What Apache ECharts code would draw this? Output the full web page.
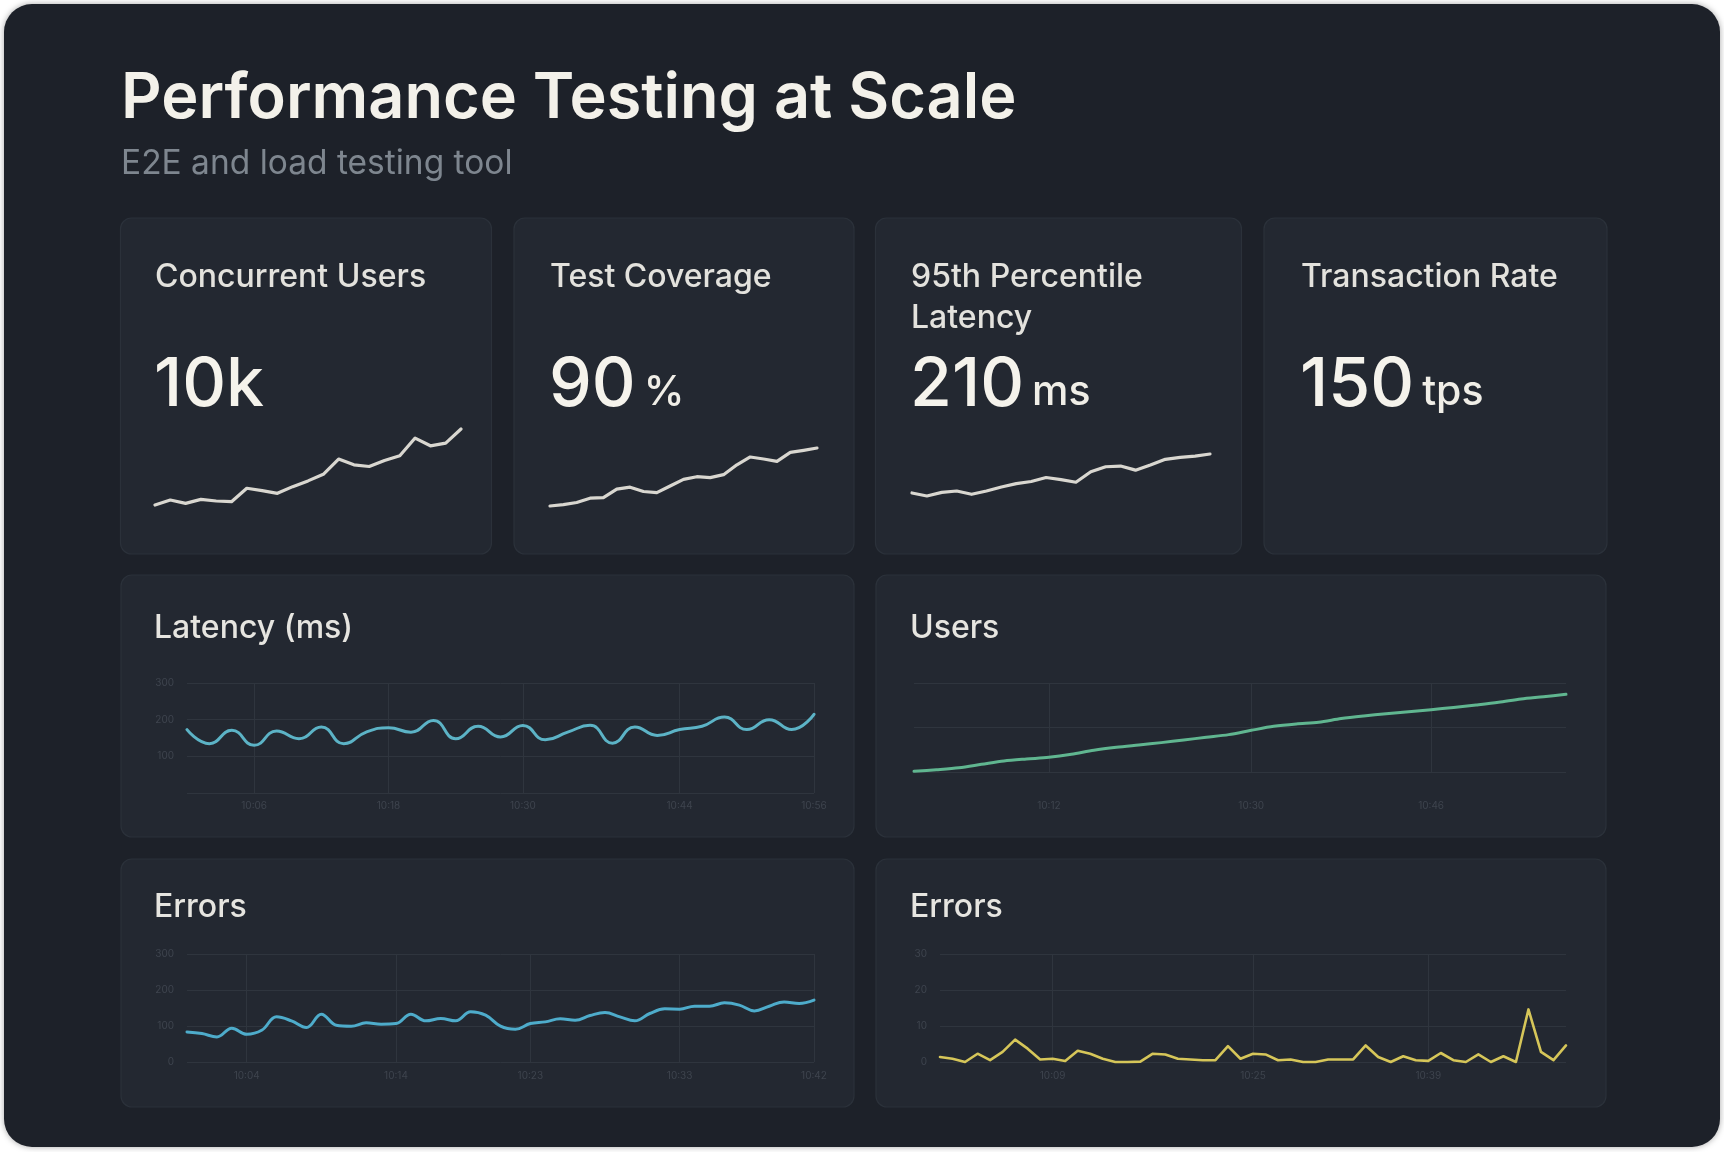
<!DOCTYPE html>
<html>
<head>
<meta charset="utf-8">
<script src="https://cdn.jsdelivr.net/npm/echarts@6/dist/echarts.min.js"></script>
<style>
html,body{margin:0;padding:0;background:#ffffff;}
#c{width:1724px;height:1152px;}
</style>
</head>
<body>
<div id="c"></div>
<script>
// ---------------- data ----------------
const pageTitle = 'Performance Testing at Scale';
const pageSubtitle = 'E2E and load testing tool';

const kpiLabels = ['Concurrent Users', 'Test Coverage', '95th Percentile Latency', 'Transaction Rate'];
const kpiValues = ['10k', '90', '210', '150'];
const kpiUnits  = ['', '%', 'ms', 'tps'];

// sparklines (Concurrent Users in k, Coverage in %, p95 latency in ms)
const sparkUsers    = [1.35, 1.92, 1.54, 2.0, 1.81, 1.73, 3.27, 3.0, 2.69, 3.46, 4.12, 4.88, 6.62, 5.96, 5.77, 6.46, 7.0, 9.04, 8.15, 8.46, 10.08];
const sparkCoverage = [70.0, 70.5, 71.2, 72.7, 72.9, 75.8, 76.5, 75.0, 74.6, 76.9, 79.2, 80.1, 79.8, 80.8, 84.2, 86.9, 86.2, 85.4, 88.5, 89.2, 90.0];
const sparkLatency  = [154.8, 150.5, 155.7, 157.6, 152.9, 157.6, 163.3, 168.1, 171.0, 176.7, 173.8, 170.0, 184.8, 191.9, 192.9, 187.1, 194.3, 202.4, 205.2, 207.1, 210.0];

const panelTitles = ['Latency (ms)', 'Users', 'Errors', 'Errors'];

const latencyMs = [172.7, 134.5, 170.9, 130, 169, 148, 180, 134.5, 166, 178, 166, 198, 148, 182, 153, 184, 145, 166, 184.5, 136, 180, 157, 173, 182, 207, 173, 200, 173, 214.5];
const usersCount = [1.5, 5.2, 9.7, 17.2, 24.7, 29.2, 33, 39.7, 48.7, 55.4, 60.7, 66, 72, 78, 84, 93.6, 102.6, 108, 111.6, 120, 126, 131, 135.6, 140, 145, 150.5, 156.5, 164, 169, 174.5];
const errorsA = [83.6, 79, 69.7, 93.8, 77, 88, 125.4, 114.3, 95.7, 132.8, 102, 99.4, 108.7, 105, 106.8, 132.8, 114.3, 120.8, 114.3, 139.4, 130, 99.4, 91, 106.8, 111.5, 119.8, 116, 129, 137.5, 125.4, 114.3, 134.7, 147.7, 146.8, 155, 155, 164.4, 158, 142, 155, 167, 162.6, 171.9];
const errorsB = [1.4, 0.9, 0, 2.3, 0.5, 2.8, 6.2, 3.7, 0.7, 0.9, 0.3, 3.1, 2.3, 0.9, 0, 0, 0.1, 2.3, 2.1, 0.9, 0.7, 0.5, 0.5, 4.4, 0.9, 2.3, 2.1, 0.5, 0.7, 0, 0, 0.7, 0.7, 0.7, 4.6, 1.4, 0, 1.6, 0.5, 0.3, 2.5, 0.5, 0, 2.1, 0, 1.6, 0, 14.6, 2.8, 0.5, 4.6];

// indices of the categories that carry a (faint) tick label + vertical grid line
const latencyTickIdx = [3, 9, 15, 22, 28];
const usersTickIdx   = [6, 15, 23];
const errorsATickIdx = [4, 14, 23, 33, 42];
const errorsBTickIdx = [9, 25, 39];

// ---------------- helpers ----------------
function timeLabels(n, startMin, stepMin) {
  const out = [];
  for (let i = 0; i < n; i++) {
    const m = startMin + i * stepMin;
    const hh = Math.floor(m / 60) % 24, mm = m % 60;
    out.push(String(hh).padStart(2, '0') + ':' + String(mm).padStart(2, '0'));
  }
  return out;
}
function idxCats(n) { return Array.from({length: n}, (_, i) => i); }

const FONT = 'Inter, "Noto Sans", Roboto, sans-serif';
const measureCtx = document.createElement('canvas').getContext('2d');
function textWidth(str, font) { measureCtx.font = font; return measureCtx.measureText(str).width; }

// text placed by its alphabetic baseline (zrender draws around the middle of the line)
function txt(x, baseline, text, size, weight, color, extra) {
  return Object.assign({
    type: 'text', x: x, y: baseline - 0.34 * size, silent: true, z: 10,
    style: { text: text, font: weight + ' ' + size + 'px ' + FONT, fill: color,
             align: 'left', verticalAlign: 'middle' }
  }, extra || {});
}
function card(x, y, w, h) {
  return { type: 'rect', shape: { x: x, y: y, width: w, height: h, r: 11 }, silent: true, z: -5,
           style: { fill: '#232831', stroke: '#2b313a', lineWidth: 1.2 } };
}

// ---------------- layout ----------------
const kpiCards = [
  [120.5, 218, 371, 336],
  [514, 218, 340, 336],
  [875.5, 218, 366, 336],
  [1264, 218, 343, 336]
];
const kpiTextX = [155, 550, 911, 1301];
const panelCards = [
  [121, 575, 733, 262],
  [876, 575, 730, 262],
  [121, 859, 733, 248],
  [876, 859, 730, 248]
];
const panelTextPos = [[154, 639], [910, 639], [154, 918], [910, 918]];

const graphics = [];
graphics.push({ type: 'rect', shape: { x: 4, y: 4, width: 1716, height: 1143, r: 28 }, silent: true, z: -10,
  style: { fill: '#1d2129', shadowBlur: 6, shadowColor: 'rgba(0,0,0,0.35)' } });
graphics.push(txt(121, 120, pageTitle, 63, 600, '#f3f1ea'));
graphics.push(txt(121, 175, pageSubtitle, 33.5, 400, '#7e868f'));

kpiCards.forEach(c => graphics.push(card(c[0], c[1], c[2], c[3])));
panelCards.forEach(c => graphics.push(card(c[0], c[1], c[2], c[3])));

kpiLabels.forEach((lab, i) => {
  graphics.push({
    type: 'text', x: kpiTextX[i], y: 287 - 30.5, silent: true, z: 10,
    style: { text: lab, font: '500 32px ' + FONT, fill: '#e3e2dd', align: 'left', verticalAlign: 'top',
             width: 300, overflow: 'break', lineHeight: 41 }
  });
  const vSize = 68;
  const vFont = '500 ' + vSize + 'px ' + FONT;
  const vx = kpiTextX[i] - 1;
  graphics.push(txt(vx, 409, kpiValues[i], vSize, 500, '#f5f3ec'));
  if (kpiUnits[i]) {
    const w = textWidth(kpiValues[i], vFont);
    graphics.push(txt(vx + w + 8, 407, kpiUnits[i], 41, 500, '#f0eee7'));
  }
});
panelTitles.forEach((t, i) => graphics.push(txt(panelTextPos[i][0], panelTextPos[i][1], t, 32, 500, '#e6e5e0')));

// ---------------- chart option ----------------
const gridLineColor = '#2f353e';
const faintLabel = { color: '#3e444e', fontSize: 10, fontFamily: FONT };

function catAxis(gridIndex, data, tickIdx, margin) {
  const set = new Set(tickIdx);
  return {
    type: 'category', gridIndex: gridIndex, data: data, boundaryGap: false,
    axisLine: { show: false }, axisTick: { show: false },
    axisLabel: Object.assign({ interval: (i) => set.has(i), margin: margin, hideOverlap: false }, faintLabel),
    splitLine: { show: true, interval: (i) => set.has(i), lineStyle: { color: gridLineColor, width: 1 } }
  };
}
function valAxis(gridIndex, max, interval, showLabels, showMin) {
  return {
    type: 'value', gridIndex: gridIndex, min: 0, max: max, interval: interval,
    axisLine: { show: false }, axisTick: { show: false },
    axisLabel: Object.assign({ show: showLabels, margin: 13, showMinLabel: showMin }, faintLabel),
    splitLine: { show: true, lineStyle: { color: gridLineColor, width: 1 } }
  };
}
function sparkAxes(gridIndex, n) {
  return [
    { type: 'category', gridIndex: gridIndex, data: idxCats(n), boundaryGap: false, show: false },
    { type: 'value', gridIndex: gridIndex, min: 'dataMin', max: 'dataMax', show: false, scale: true }
  ];
}

const grids = [
  { left: 155, top: 429, width: 306, height: 76 },   // spark users
  { left: 550, top: 448, width: 267, height: 58 },   // spark coverage
  { left: 912, top: 454, width: 298, height: 42 },   // spark latency
  { left: 187, top: 683, width: 627, height: 110 },  // latency
  { left: 914, top: 683, width: 652, height: 89 },   // users
  { left: 187, top: 954, width: 627, height: 108 },  // errors A
  { left: 940, top: 954, width: 626, height: 108 }   // errors B
];

const s0 = sparkAxes(0, sparkUsers.length), s1 = sparkAxes(1, sparkCoverage.length), s2 = sparkAxes(2, sparkLatency.length);
const xAxes = [s0[0], s1[0], s2[0],
  catAxis(3, timeLabels(latencyMs.length, 600, 2), latencyTickIdx, 8),
  catAxis(4, timeLabels(usersCount.length, 600, 2), usersTickIdx, 29),
  catAxis(5, timeLabels(errorsA.length, 600, 1), errorsATickIdx, 9),
  catAxis(6, timeLabels(errorsB.length, 600, 1), errorsBTickIdx, 9)
];
const yAxes = [s0[1], s1[1], s2[1],
  valAxis(3, 300, 100, true, false),
  valAxis(4, 200, 100, false, false),
  valAxis(5, 300, 100, true, true),
  valAxis(6, 30, 10, true, true)
];

function lineSeries(idx, data, color, smooth, width) {
  return { type: 'line', xAxisIndex: idx, yAxisIndex: idx, data: data, smooth: smooth, showSymbol: false,
           symbol: 'none', clip: false, silent: true, animation: false,
           lineStyle: { color: color, width: width, cap: 'round', join: 'round' } };
}

const option = {
  backgroundColor: 'transparent',
  animation: false,
  graphic: { elements: graphics },
  grid: grids,
  xAxis: xAxes,
  yAxis: yAxes,
  series: [
    lineSeries(0, sparkUsers, '#d9d7d0', false, 3.2),
    lineSeries(1, sparkCoverage, '#d9d7d0', false, 3.2),
    lineSeries(2, sparkLatency, '#d9d7d0', false, 3.2),
    lineSeries(3, latencyMs, '#5cb3c6', 0.5, 3),
    lineSeries(4, usersCount, '#60b690', 0.3, 3),
    lineSeries(5, errorsA, '#4eaccb', 0.4, 3),
    lineSeries(6, errorsB, '#d6c659', false, 2.6)
  ]
};

const chart = echarts.init(document.getElementById('c'), null, { renderer: 'canvas', width: 1724, height: 1152 });
chart.setOption(option);
</script>
</body>
</html>
